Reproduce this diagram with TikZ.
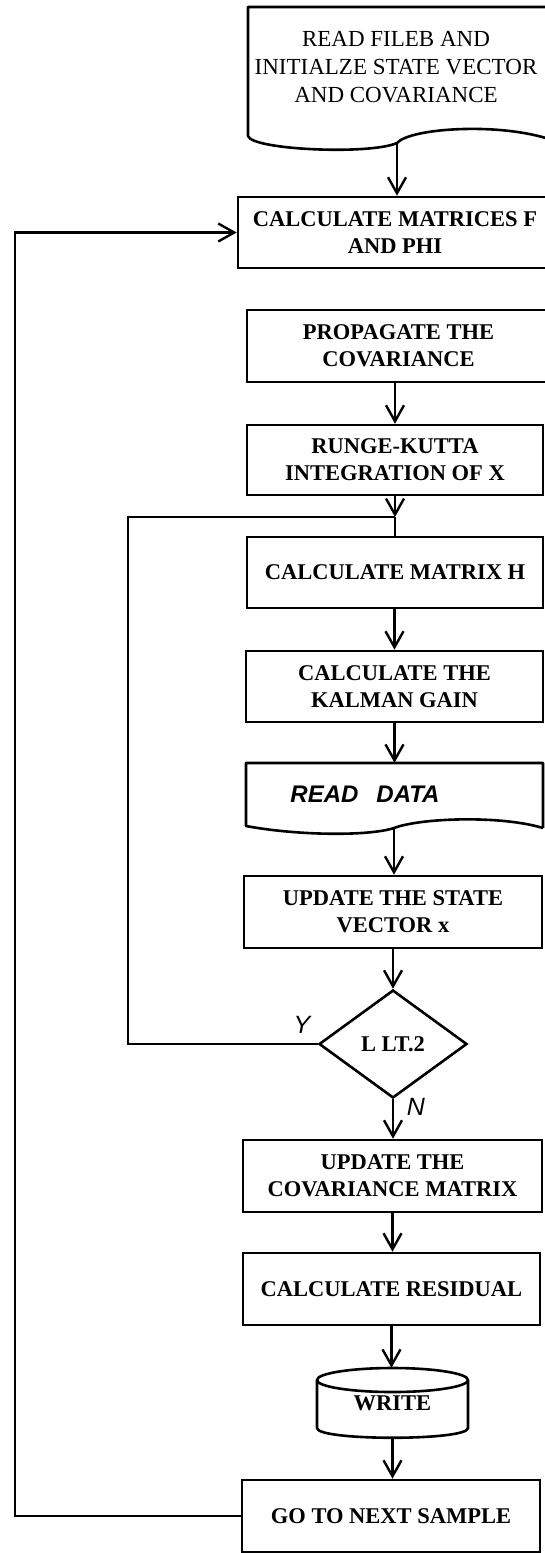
\documentclass[tikz,border=0pt]{standalone}
\usepackage{fontspec}
\setmainfont{Liberation Serif}
\newfontfamily\handfont{Liberation Sans}
\usetikzlibrary{arrows.meta,shapes.geometric}
\begin{document}
\begin{tikzpicture}[x=1pt,y={(0pt,-1pt)},
  box/.style={draw,line width=2.6pt,rectangle,inner sep=0pt,align=center,
    font=\fontsize{22.5}{27}\selectfont\bfseries},
  ghost/.style={rectangle,inner sep=0pt},
  flow/.style={line width=2.4pt,-{Straight Barb[length=16pt,width=18pt]}},
  link/.style={line width=2.4pt},
  hand/.style={font=\fontsize{25}{30}\selectfont\handfont\itshape},
  shapeline/.style={line width=2.6pt,line join=round}]
\useasboundingbox (0,0) rectangle (545,1553);

% input document: read file and initialise
\coordinate (dj) at (397,143);
\draw[shapeline] (552,7) -- (248,7) -- (248,136)
  .. controls (252,150) and (370,155) .. (dj)
  .. controls (410,128) and (500,122) .. (552,140);
\node[align=center,font=\fontsize{23}{28}\selectfont] (rfile) at (396,67)
  {READ FILEB AND\\INITIALZE STATE VECTOR\\AND COVARIANCE};

% process boxes
\node[box,minimum width=314pt,minimum height=71pt] (mat) at (395,232.5)
  {CALCULATE MATRICES F\\AND PHI};
\node[box,minimum width=303pt,minimum height=72pt] (prop) at (398.5,346)
  {PROPAGATE THE\\COVARIANCE};
\node[box,minimum width=296pt,minimum height=70pt] (rk) at (395,460)
  {RUNGE-KUTTA\\INTEGRATION OF X};
\node[box,minimum width=296pt,minimum height=71pt] (hm) at (395,572.5)
  {CALCULATE MATRIX H};
\node[box,minimum width=297pt,minimum height=71pt] (kal) at (394.5,686.5)
  {CALCULATE THE\\KALMAN GAIN};

% input document: read data
\node[ghost,minimum width=297pt,minimum height=65pt] (rdbox) at (394.5,795.5) {};
\coordinate (rj) at (394,828);
\draw[shapeline] (543,828) -- (543,763) -- (246,763) -- (246,826)
  .. controls (300,836) and (370,836) .. (rj)
  .. controls (420,818) and (500,815) .. (543,828);
\node[hand,font=\fontsize{24}{28}\selectfont\handfont\itshape\bfseries] (rdtext) at (365,794)
  {READ\hspace{18pt}DATA};

\node[box,minimum width=298pt,minimum height=72pt] (ust) at (393,912)
  {UPDATE THE STATE\\VECTOR x};
\node[draw,diamond,line width=2.6pt,inner sep=0pt,minimum width=148pt,
  minimum height=108pt,font=\fontsize{22.5}{27}\selectfont\bfseries]
  (dec) at (393,1044) {L LT.2};
\node[box,minimum width=299pt,minimum height=72pt] (cov) at (392.5,1176)
  {UPDATE THE\\COVARIANCE MATRIX};
\node[box,minimum width=297pt,minimum height=72pt] (res) at (391.5,1289)
  {CALCULATE RESIDUAL};

% storage: write
\node[ghost,minimum width=151pt,minimum height=70pt,
  font=\fontsize{22.5}{27}\selectfont\bfseries] (wr) at (392.5,1403) {\raisebox{-3pt}{WRITE}};
\draw[shapeline] (392.5,1380) ellipse [x radius=75.5pt, y radius=12pt];
\draw[shapeline] (317,1380) -- (317,1428)
  .. controls (317,1441) and (468,1441) .. (468,1428) -- (468,1380);

\node[box,minimum width=298pt,minimum height=72pt] (nxt) at (391,1516)
  {GO TO NEXT SAMPLE};

% connectors
\coordinate (jn) at (395,517);
\coordinate (lx) at (128,0);
\coordinate (bx) at (15,0);
\draw[flow] (dj) -- (dj |- mat.north);
\draw[flow] (rk.north |- prop.south) -- (rk.north);
\draw[flow] (rk.south) -- (jn);
\draw[link] (jn) -- (hm.north);
\draw[flow] (kal.north |- hm.south) -- (kal.north);
\draw[flow] (kal.south) -- (rdbox.north);
\draw[flow] (rj) -- (rj |- ust.north);
\draw[flow] (ust.south) -- (dec.north);
\draw[flow] (dec.south) -- (dec.south |- cov.north);
\draw[flow] (cov.south) -- (cov.south |- res.north);
\draw[flow] (res.south) -- (res.south |- wr.north);
\draw[flow] (wr.south) -- (wr.south |- nxt.north);

% inner loop back to the measurement update
\draw[link] (dec.west) -- (dec.west -| lx) |- (jn);
\node[hand] (ylab) at (302,1025) {Y};
\node[hand] (nlab) at (416,1107) {N};

% outer loop back to the next sample
\draw[flow] (nxt.west) -- (nxt.west -| bx) |- (mat.west);
\end{tikzpicture}
\end{document}
